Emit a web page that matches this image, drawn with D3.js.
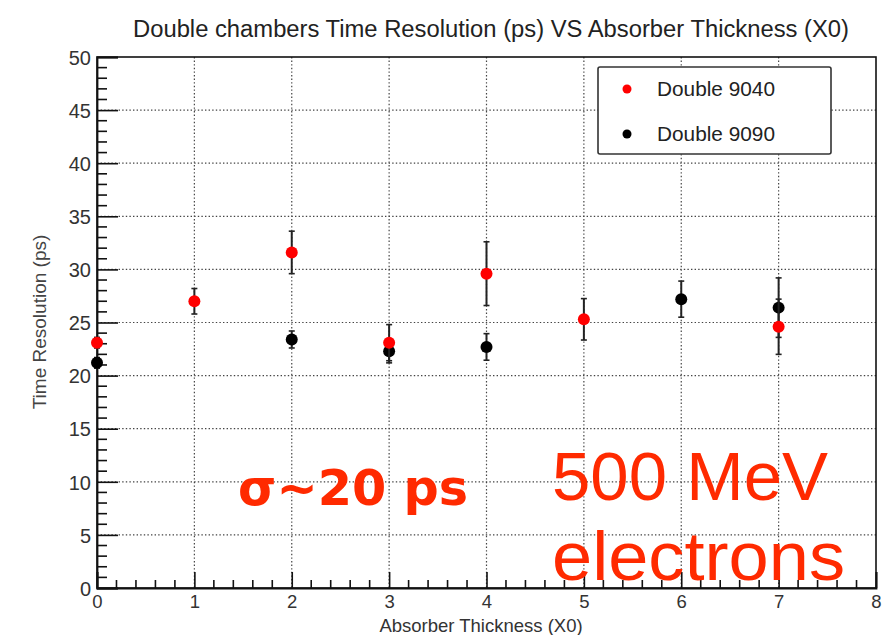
<!DOCTYPE html>
<html>
<head>
<meta charset="utf-8">
<script src="https://cdn.jsdelivr.net/npm/d3@7"></script>
<style>
  html, body { margin: 0; padding: 0; background: #fff; }
  svg { display: block; }
</style>
</head>
<body>
<svg id="chart" width="889" height="635"></svg>
<script>
// Absorber thickness (X0) and measured time resolution (ps) per chamber pair
const series9040X   = [0, 1, 2, 3, 4, 5, 7];
const series9040Y   = [23.1, 27.0, 31.6, 23.1, 29.6, 25.3, 24.6];
const series9040Err = [0.5, 1.2, 2.0, 1.7, 3.0, 1.95, 2.6];

const series9090X   = [0, 2, 3, 4, 6, 7];
const series9090Y   = [21.2, 23.4, 22.3, 22.7, 27.2, 26.4];
const series9090Err = [0.5, 0.8, 1.1, 1.25, 1.7, 2.8];

const xTicks = [0, 1, 2, 3, 4, 5, 6, 7, 8];
const yTicks = [0, 5, 10, 15, 20, 25, 30, 35, 40, 45, 50];

const seriesNames = ["Double 9040", "Double 9090"];
const seriesColors = ["#ff0000", "#000000"];

const svg = d3.select("#chart");
const font = "'Liberation Sans', Arial, Helvetica, sans-serif";

const plotLeft = 97, plotRight = 876, plotTop = 57, plotBottom = 588;
const x = d3.scaleLinear().domain([0, 8]).range([plotLeft, plotRight]);
const y = d3.scaleLinear().domain([0, 50]).range([plotBottom, plotTop]);

// Title
svg.append("text")
  .attr("x", 491).attr("y", 37)
  .attr("text-anchor", "middle")
  .attr("font-family", font).attr("font-size", 23)
  .attr("textLength", 716).attr("lengthAdjust", "spacingAndGlyphs")
  .attr("fill", "#222")
  .text("Double chambers Time Resolution (ps) VS Absorber Thickness (X0)");

// Dotted grid
const grid = svg.append("g").attr("stroke", "#444").attr("stroke-width", 1.2)
  .attr("stroke-dasharray", "1.4,2.2");
grid.selectAll("line.gx").data(xTicks.slice(1, -1)).join("line")
  .attr("x1", d => x(d)).attr("x2", d => x(d))
  .attr("y1", plotTop).attr("y2", plotBottom);
grid.selectAll("line.gy").data(yTicks.slice(1, -1)).join("line")
  .attr("x1", plotLeft).attr("x2", plotRight)
  .attr("y1", d => y(d)).attr("y2", d => y(d));

// Frame
svg.append("rect")
  .attr("x", plotLeft).attr("y", plotTop)
  .attr("width", plotRight - plotLeft).attr("height", plotBottom - plotTop)
  .attr("fill", "none").attr("stroke", "#111").attr("stroke-width", 1.6);

// X axis: majors plus minor ticks every 0.2, drawn inward
const xAxis = d3.axisBottom(x).tickValues(xTicks).tickSize(-16).tickPadding(24).tickFormat(d3.format("d"));
const gx = svg.append("g").attr("transform", `translate(0,${plotBottom})`).call(xAxis);
const xMinor = d3.range(0, 8.001, 0.2).filter(v => Math.abs(v - Math.round(v)) > 1e-6);
gx.selectAll("line.minor").data(xMinor).join("line")
  .attr("class", "minor")
  .attr("x1", d => x(d)).attr("x2", d => x(d))
  .attr("y1", 0).attr("y2", -8)
  .attr("stroke", "#111").attr("stroke-width", 1.6);

// Y axis: majors plus minor ticks every 1
const yAxis = d3.axisLeft(y).tickValues(yTicks).tickSize(-21).tickPadding(28).tickFormat(d3.format("d"));
const gy = svg.append("g").attr("transform", `translate(${plotLeft},0)`).call(yAxis);
const yMinor = d3.range(0, 50.001, 1).filter(v => v % 5 !== 0);
gy.selectAll("line.minor").data(yMinor).join("line")
  .attr("class", "minor")
  .attr("x1", 0).attr("x2", 10)
  .attr("y1", d => y(d)).attr("y2", d => y(d))
  .attr("stroke", "#111").attr("stroke-width", 1.6);

[gx, gy].forEach(g => {
  g.select(".domain").attr("stroke", "#111").attr("stroke-width", 1.8);
  g.selectAll(".tick line").attr("stroke", "#111").attr("stroke-width", 1.6);
  g.selectAll(".tick text").attr("font-family", font).attr("font-size", 20).attr("fill", "#333");
});
gx.selectAll(".tick text").attr("font-size", 18.5).attr("y", 7).attr("dy", "0.71em");
gy.selectAll(".tick text").attr("x", -6).attr("dy", "0.36em");

// Axis titles
svg.append("text")
  .attr("x", 481).attr("y", 632)
  .attr("text-anchor", "middle")
  .attr("font-family", font).attr("font-size", 18.5).attr("fill", "#333")
  .text("Absorber Thickness (X0)");
svg.append("text")
  .attr("transform", `translate(46,${322}) rotate(-90)`)
  .attr("text-anchor", "middle")
  .attr("font-family", font).attr("font-size", 19).attr("fill", "#444")
  .text("Time Resolution (ps)");

// Data series with error bars
function drawSeries(xs, ys, errs, color, r) {
  const pts = xs.map((v, i) => ({ x: v, y: ys[i], e: errs[i] }));
  const g = svg.append("g");
  g.selectAll("line.err").data(pts).join("line")
    .attr("x1", d => x(d.x)).attr("x2", d => x(d.x))
    .attr("y1", d => y(d.y - d.e)).attr("y2", d => y(d.y + d.e))
    .attr("stroke", "#222").attr("stroke-width", 2);
  g.selectAll("line.capTop").data(pts).join("line")
    .attr("x1", d => x(d.x) - 3).attr("x2", d => x(d.x) + 3)
    .attr("y1", d => y(d.y + d.e)).attr("y2", d => y(d.y + d.e))
    .attr("stroke", "#222").attr("stroke-width", 1.6);
  g.selectAll("line.capBot").data(pts).join("line")
    .attr("x1", d => x(d.x) - 3).attr("x2", d => x(d.x) + 3)
    .attr("y1", d => y(d.y - d.e)).attr("y2", d => y(d.y - d.e))
    .attr("stroke", "#222").attr("stroke-width", 1.6);
  g.selectAll("circle").data(pts).join("circle")
    .attr("cx", d => x(d.x)).attr("cy", d => y(d.y))
    .attr("r", r).attr("fill", color);
}
drawSeries(series9090X, series9090Y, series9090Err, seriesColors[1], 6);
drawSeries(series9040X, series9040Y, series9040Err, seriesColors[0], 6);

// Legend
const legend = svg.append("g");
legend.append("rect")
  .attr("x", 598).attr("y", 67).attr("width", 233).attr("height", 87)
  .attr("rx", 2)
  .attr("fill", "#fff").attr("stroke", "#333").attr("stroke-width", 1.6);
seriesNames.forEach((name, i) => {
  const cy = 89 + i * 45;
  legend.append("circle").attr("cx", 627).attr("cy", cy).attr("r", 4.5).attr("fill", seriesColors[i]);
  legend.append("text")
    .attr("x", 657).attr("y", cy).attr("dy", "0.36em")
    .attr("font-family", font).attr("font-size", 20).attr("fill", "#222")
    .attr("textLength", 118).attr("lengthAdjust", "spacingAndGlyphs")
    .text(name);
});

// Annotations
const accent = "#ff2a00";
svg.append("text")
  .attr("x", 238).attr("y", 505)
  .attr("font-family", "'DejaVu Sans', Verdana, sans-serif").attr("font-weight", "bold")
  .attr("font-size", 50).attr("fill", accent)
  .attr("textLength", 230).attr("lengthAdjust", "spacingAndGlyphs")
  .text("σ~20 ps");
svg.append("text")
  .attr("x", 552).attr("y", 500)
  .attr("font-family", font).attr("font-size", 68).attr("fill", accent)
  .attr("textLength", 276).attr("lengthAdjust", "spacingAndGlyphs")
  .text("500 MeV");
svg.append("text")
  .attr("x", 552).attr("y", 580)
  .attr("font-family", font).attr("font-size", 68).attr("fill", accent)
  .attr("textLength", 293).attr("lengthAdjust", "spacingAndGlyphs")
  .text("electrons");
</script>
</body>
</html>
